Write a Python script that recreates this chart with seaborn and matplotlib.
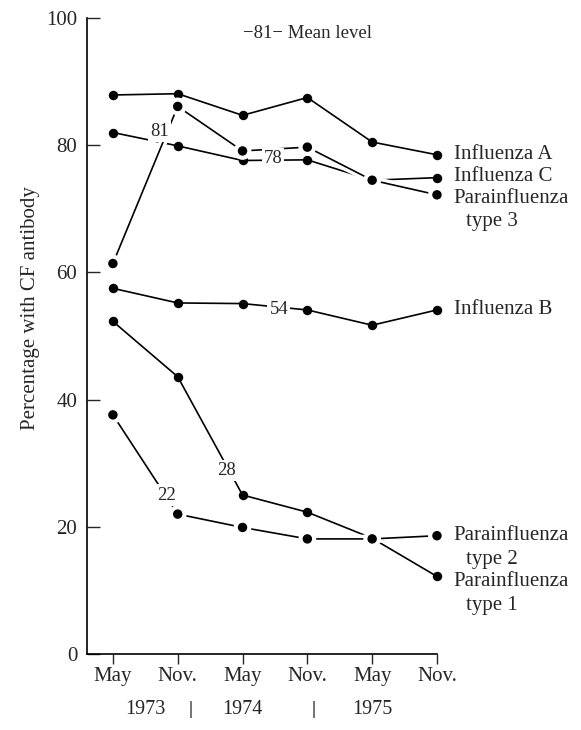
import matplotlib
matplotlib.use("Agg")
import pandas as pd
import matplotlib.pyplot as plt
import matplotlib.patheffects as pe
import seaborn as sns

# ── data ───────────────────────────────────────────────────
MONTHS = ["May", "Nov.", "May", "Nov.", "May", "Nov."]
YEARS = ["1973", "1974", "1975"]

INFLUENZA_A = [87.9, 88.1, 84.7, 87.5, 80.5, 78.5]
INFLUENZA_C = [82.0, 79.9, 77.6, 77.7, 74.5, 74.9]
INFLUENZA_B = [57.5, 55.2, 55.1, 54.1, 51.7, 54.1]
PARA_1 = [52.3, 43.6, 25.0, 22.3, 18.2, 12.2]
PARA_3 = [61.4, 86.1, 79.1, 79.7, 74.5, 72.2]
PARA_2 = [37.6, 22.0, 19.9, 18.1, 18.1, 18.6]

# mean levels written on the lines
MEAN_LABELS = ["81", "78", "54", "28", "22"]
MEAN_X = [0.72, 2.47, 2.56, 1.76, 0.83]
MEAN_Y = [82.1, 77.9, 54.1, 28.9, 25.0]

# ── style ──────────────────────────────────────────────────
sns.set_style("ticks")
plt.rcParams["font.family"] = ["Liberation Serif", "DejaVu Serif"]
plt.rcParams["font.size"] = 14

SERIES = [
    ("Influenza A", INFLUENZA_A, False),
    ("Influenza C", INFLUENZA_C, False),
    ("Influenza B", INFLUENZA_B, False),
    ("Parainfluenza type 1", PARA_1, False),
    ("Parainfluenza type 3", PARA_3, True),
    ("Parainfluenza type 2", PARA_2, True),
]

rows = []
for name, vals, _ in SERIES:
    for i, v in enumerate(vals):
        rows.append({"series": name, "pos": i, "value": v})
df = pd.DataFrame(rows)

fig = plt.figure(figsize=(5.81, 7.30), dpi=100)
ax = fig.add_axes([0.1497, 0.1041, 0.6024, 0.8712])

# the two "cutting" lines get a white halo so lines they cross are broken
halo = [pe.Stroke(linewidth=6, foreground="white"), pe.Normal()]
for name, _, cut in SERIES:
    sub = df[df["series"] == name]
    sns.lineplot(
        data=sub, x="pos", y="value", ax=ax, color="black",
        linewidth=1.2, marker="o", markersize=6.8, markeredgewidth=0,
        path_effects=halo if cut else None, legend=False, clip_on=False,
    )

# mean level labels (white box breaks the line)
for lab, x, y in zip(MEAN_LABELS, MEAN_X, MEAN_Y):
    ax.text(x, y, lab, ha="center", va="center", fontsize=13.5, zorder=5,
            bbox=dict(facecolor="white", edgecolor="none", pad=1.5))

ax.text(4.0, 97.6, "\u2212" + "81" + "\u2212 Mean level", ha="right",
        va="center", fontsize=13.5)

# series names on the right: (end value, second line, vertical nudge in pt)
ends = {
    "Influenza A": (INFLUENZA_A[-1], None, 0),
    "Influenza C": (INFLUENZA_C[-1], None, 1),
    "Influenza B": (INFLUENZA_B[-1], None, 0),
    "Parainfluenza type 3": (PARA_3[-1], "type 3", -2.5),
    "Parainfluenza type 2": (PARA_2[-1], "type 2", 0),
    "Parainfluenza type 1": (PARA_1[-1], "type 1", -4),
}
for name, (yv, second, dy) in ends.items():
    first = "Parainfluenza" if second else name
    ax.annotate(first, xy=(5, yv), xytext=(12, dy), textcoords="offset points",
                ha="left", va="center", fontsize=15, annotation_clip=False)
    if second:
        ax.annotate(second, xy=(5, yv), xytext=(21, dy - 17),
                    textcoords="offset points", ha="left", va="center",
                    fontsize=15, annotation_clip=False)

# axes
ax.set_xlim(-0.4, 5.0)
ax.set_ylim(0, 100)
ax.set_xticks(range(6))
ax.set_xticklabels(MONTHS)
ax.set_yticks([0, 20, 40, 60, 80, 100])
ax.tick_params(axis="y", direction="in", length=9, width=1, pad=7, labelsize=15)
ax.tick_params(axis="x", direction="out", length=7, width=1, pad=2, labelsize=15)
ax.set_xlabel("")
ax.set_ylabel("")
for side in ("top", "right"):
    ax.spines[side].set_visible(False)
for side in ("left", "bottom"):
    ax.spines[side].set_linewidth(1.2)
    ax.spines[side].set_color("black")

ax.text(-0.16, 0.544, "Percentage with CF antibody", rotation=90,
        ha="center", va="center", fontsize=15, transform=ax.transAxes)

# years under the month labels
trans = ax.get_xaxis_transform()
for x, yr in zip([0.5, 2.0, 4.0], YEARS):
    ax.text(x, -0.088, yr, ha="center", va="center", fontsize=14.5, transform=trans)
for x in [1.2, 3.1]:
    ax.text(x, -0.088, "|", ha="center", va="center", fontsize=13,
            fontweight="bold", transform=trans)

fig.savefig("out.png", dpi=100)
